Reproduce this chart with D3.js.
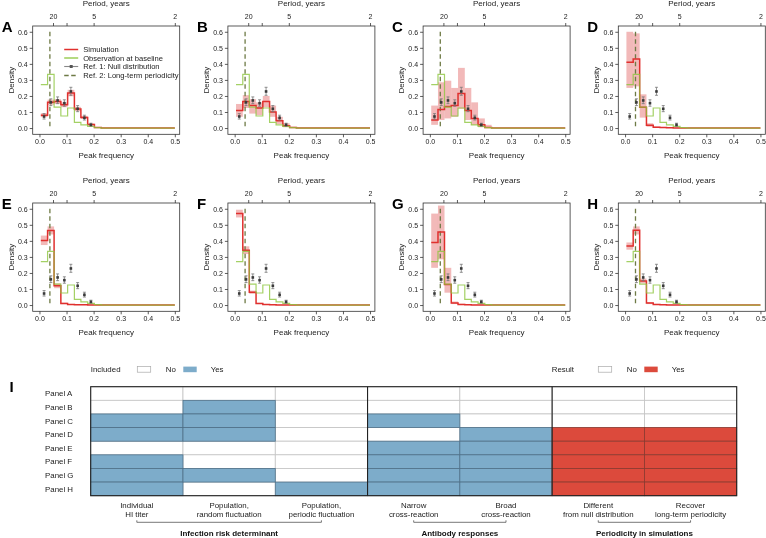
<!DOCTYPE html>
<html><head><meta charset="utf-8">
<script src="https://cdn.jsdelivr.net/npm/d3@7"></script>
<style>body{margin:0;background:#fff}svg{display:block;will-change:transform}text{font-family:"Liberation Sans",Arial,Helvetica,sans-serif}</style>
</head><body><svg id="c" width="766" height="538"></svg>
<script>
// ---------- data ----------
const binEdges=[0.005,0.030,0.054,0.079,0.104,0.129,0.153,0.178,0.203,0.228,0.500];
const nullFreq=[0.017,0.042,0.067,0.092,0.116,0.141,0.166,0.190];
const nullMean=[0.072,0.160,0.172,0.155,0.228,0.120,0.064,0.020];
const nullLo=[0.056,0.140,0.152,0.136,0.204,0.102,0.050,0.012];
const nullHi=[0.090,0.182,0.194,0.176,0.254,0.140,0.080,0.030];
const observed=[0.270,0.335,0.130,0.075,0.125,0.035,0.020,0.010,0.003,0];
const longTermFreq=0.0385;
const xTicks=[0,0.1,0.2,0.3,0.4,0.5];
const yTicks=[0,0.1,0.2,0.3,0.4,0.5,0.6];
const periodTicks=[20,10,5,2];
const periodLabels=["20","","5","2"];
const panelNames=["A","B","C","D","E","F","G","H"];

const meanA=[0.080,0.160,0.165,0.145,0.218,0.118,0.066,0.022,0.003,0];
const loA  =[0.068,0.145,0.150,0.130,0.198,0.105,0.057,0.016,0.001,0];
const hiA  =[0.092,0.177,0.180,0.160,0.238,0.132,0.076,0.028,0.005,0];
const meanB=[0.110,0.165,0.140,0.125,0.165,0.100,0.045,0.015,0.003,0];
const loB  =[0.070,0.125,0.090,0.080,0.130,0.070,0.025,0.005,0.000,0];
const hiB  =[0.150,0.205,0.180,0.160,0.200,0.140,0.070,0.030,0.008,0];
const meanC=[0.050,0.115,0.135,0.140,0.215,0.110,0.060,0.020,0.003,0];
const loC  =[0.020,0.050,0.060,0.070,0.120,0.050,0.020,0.005,0.000,0];
const hiC  =[0.140,0.285,0.295,0.250,0.375,0.250,0.160,0.060,0.020,0];
const meanD=[0.410,0.430,0.130,0.018,0.005,0.003,0.002,0.001,0,0];
const loD  =[0.250,0.260,0.065,0.008,0.001,0.000,0.000,0.000,0,0];
const hiD  =[0.600,0.590,0.210,0.030,0.010,0.006,0.004,0.002,0,0];
const meanE=[0.402,0.465,0.120,0.010,0.004,0.002,0.002,0.001,0,0];
const loE  =[0.374,0.440,0.105,0.006,0.002,0.000,0.000,0.000,0,0];
const hiE  =[0.433,0.490,0.135,0.015,0.006,0.004,0.003,0.002,0,0];
const meanF=[0.570,0.342,0.080,0.010,0.003,0.002,0.001,0.001,0,0];
const loF  =[0.546,0.318,0.070,0.006,0.001,0.000,0.000,0.000,0,0];
const hiF  =[0.594,0.366,0.090,0.014,0.005,0.003,0.002,0.002,0,0];
const meanG=[0.390,0.455,0.128,0.013,0.004,0.002,0.001,0.001,0,0];
const loG  =[0.232,0.285,0.077,0.006,0.001,0.000,0.000,0.000,0,0];
const hiG  =[0.570,0.620,0.232,0.022,0.008,0.004,0.003,0.002,0,0];
const meanH=[0.368,0.466,0.150,0.012,0.004,0.002,0.001,0.001,0,0];
const loH  =[0.345,0.440,0.135,0.006,0.001,0.000,0.000,0.000,0,0];
const hiH  =[0.390,0.490,0.165,0.018,0.007,0.004,0.003,0.002,0,0];

const rowLabels=["Panel A","Panel B","Panel C","Panel D","Panel E","Panel F","Panel G","Panel H"];
const colLabels=[["Individual","HI titer"],["Population,","random fluctuation"],["Population,","periodic fluctuation"],["Narrow","cross-reaction"],["Broad","cross-reaction"],["Different","from null distribution"],["Recover","long-term periodicity"]];
const hiTiter      =[0,0,1,1,0,1,1,1];
const randomFluct  =[0,1,1,1,0,0,1,0];
const periodicFluct=[0,0,0,0,0,0,0,1];
const narrowCR     =[0,0,1,0,1,1,1,1];
const broadCR      =[0,0,0,1,1,1,1,1];
const diffNull     =[0,0,0,1,1,1,1,1];
const recoverLT    =[0,0,0,1,1,1,1,1];
const groupLabels=["Infection risk determinant","Antibody responses","Periodicity in simulations"];
const groupSpans=[[0,2],[3,4],[5,6]];

// ---------- style ----------
const RED="#E0302E", GREEN="#8DC63F", BAND="#E57373", DASH="#6E7A45", BLUE="#7DACCA", RESRED="#DC4A3C";
const sims=[[meanA,loA,hiA],[meanB,loB,hiB],[meanC,loC,hiC],[meanD,loD,hiD],[meanE,loE,hiE],[meanF,loF,hiF],[meanG,loG,hiG],[meanH,loH,hiH]];

const svg=d3.select("#c");
const colLeft=[32.7,227.9,423.1,618.3], rowTop=[26,203];
const W=147, H=108.3;
const fs=7, fsT=8, fsL=7.6, fsI=7.9;

panelNames.forEach((name,pi)=>{
  const L=colLeft[pi%4], T=rowTop[Math.floor(pi/4)];
  const x=d3.scaleLinear().domain([-0.025,0.518]).range([L,L+W]);
  const y=d3.scaleLinear().domain([-0.039,0.636]).range([T+H,T]);
  const g=svg.append("g");
  const [mean,lo,hi]=sims[pi];
  g.selectAll("rect.band").data(mean).join("rect")
    .attr("x",(d,i)=>x(binEdges[i])).attr("width",(d,i)=>x(binEdges[i+1])-x(binEdges[i]))
    .attr("y",(d,i)=>y(hi[i])).attr("height",(d,i)=>Math.max(0,y(lo[i])-y(hi[i])))
    .attr("fill",BAND).attr("opacity",0.5);
  const step=d3.line().x(d=>x(d[0])).y(d=>y(d[1])).curve(d3.curveStepAfter);
  const pts=v=>v.map((d,i)=>[binEdges[i],d]).concat([[binEdges[v.length],v[v.length-1]]]);
  g.append("line").attr("x1",x(longTermFreq)).attr("x2",x(longTermFreq)).attr("y1",y(0.6)).attr("y2",y(0))
    .attr("stroke",DASH).attr("stroke-width",1.3).attr("stroke-dasharray","4.5,3");
  g.append("path").attr("d",step(pts(mean))).attr("fill","none").attr("stroke",RED).attr("stroke-width",1.5);
  g.append("path").attr("d",step(pts(observed))).attr("fill","none").attr("stroke",GREEN).attr("stroke-width",1.2).attr("opacity",0.8);
  nullFreq.forEach((f,i)=>{
    const cx=x(f);
    g.append("line").attr("x1",cx).attr("x2",cx).attr("y1",y(nullLo[i])).attr("y2",y(nullHi[i])).attr("stroke","#777").attr("stroke-width",0.8);
    [nullLo[i],nullHi[i]].forEach(v=>g.append("line").attr("x1",cx-1.5).attr("x2",cx+1.5).attr("y1",y(v)).attr("y2",y(v)).attr("stroke","#777").attr("stroke-width",0.8));
    g.append("rect").attr("x",cx-1.3).attr("y",y(nullMean[i])-1.3).attr("width",2.6).attr("height",2.6).attr("fill","#3a3a3a");
  });
  g.append("rect").attr("x",L).attr("y",T).attr("width",W).attr("height",H).attr("fill","none").attr("stroke","#333").attr("stroke-width",0.8);
  const ax=g.append("g").attr("transform",`translate(0,${T+H})`).call(d3.axisBottom(x).tickValues(xTicks).tickFormat(d3.format(".1f")).tickSize(3).tickPadding(1.5));
  const ay=g.append("g").attr("transform",`translate(${L},0)`).call(d3.axisLeft(y).tickValues(yTicks).tickFormat(d3.format(".1f")).tickSize(3).tickPadding(2));
  const at=g.append("g").attr("transform",`translate(0,${T})`).call(d3.axisTop(x).tickValues(periodTicks.map(p=>1/p)).tickFormat((d,i)=>periodLabels[i]).tickSize(3).tickPadding(4));
  [ax,ay,at].forEach(a=>{a.select(".domain").remove();a.selectAll("line").attr("stroke","#333").attr("stroke-width",0.8);
    a.selectAll("text").attr("font-size",fs).attr("fill","#222").style("font-family","Liberation Sans, Arial, sans-serif");});
  g.append("text").attr("x",L+W/2).attr("y",T+H+24).attr("text-anchor","middle").attr("font-size",fsT).attr("fill","#222").text("Peak frequency");
  g.append("text").attr("x",L+W/2).attr("y",T-20).attr("text-anchor","middle").attr("font-size",fsT).attr("fill","#222").text("Period, years");
  g.append("text").attr("transform",`translate(${L-19},${T+H/2}) rotate(-90)`).attr("text-anchor","middle").attr("font-size",fsT).attr("fill","#222").text("Density");
  g.append("text").attr("x",L-31).attr("y",T+5.5).attr("font-size",15).attr("font-weight","bold").attr("fill","#000").text(name);
  if(pi===0){
    const lx0=L+31.5, lx1=L+45.5, tx=L+50.5;
    const ly=[49.5,58,66.5,75.5];
    const labels=["Simulation","Observation at baseline","Ref. 1: Null distribution","Ref. 2: Long-term periodicity"];
    g.append("line").attr("x1",lx0).attr("x2",lx1).attr("y1",ly[0]).attr("y2",ly[0]).attr("stroke",RED).attr("stroke-width",1.5);
    g.append("line").attr("x1",lx0).attr("x2",lx1).attr("y1",ly[1]).attr("y2",ly[1]).attr("stroke",GREEN).attr("stroke-width",1.3);
    g.append("line").attr("x1",lx0).attr("x2",lx1).attr("y1",ly[2]).attr("y2",ly[2]).attr("stroke","#888").attr("stroke-width",1.1);
    g.append("rect").attr("x",(lx0+lx1)/2-1.5).attr("y",ly[2]-1.5).attr("width",3).attr("height",3).attr("fill","#555");
    g.append("line").attr("x1",lx0).attr("x2",lx1).attr("y1",ly[3]).attr("y2",ly[3]).attr("stroke",DASH).attr("stroke-width",1.4).attr("stroke-dasharray","4.5,2.5");
    labels.forEach((t,i)=>g.append("text").attr("x",tx).attr("y",ly[i]+2.7).attr("font-size",fsL).attr("fill","#222").text(t));
  }
});

// ---------- panel I ----------
const cols=[hiTiter,randomFluct,periodicFluct,narrowCR,broadCR,diffNull,recoverLT];
const cx=d3.scaleBand().domain(d3.range(7)).range([90.7,736.7]);
const ry=d3.scaleBand().domain(d3.range(8)).range([386.7,495.7]);
const gi=svg.append("g");
const cells=[];
cols.forEach((c,ci)=>c.forEach((v,ri)=>cells.push({ci,ri,v})));
const fillOf=d=>d.v? (d.ci>=5?RESRED:BLUE):"#fff";
const strokeOf=d=>d.v? (d.ci>=5?"#8a3a30":"#4f7088"):"#c4c4c4";
gi.selectAll("rect.cw").data(cells.filter(d=>!d.v)).join("rect")
  .attr("x",d=>cx(d.ci)).attr("y",d=>ry(d.ri)).attr("width",cx.bandwidth()).attr("height",ry.bandwidth())
  .attr("fill",fillOf).attr("stroke",strokeOf).attr("stroke-width",0.8);
gi.selectAll("rect.cc").data(cells.filter(d=>d.v)).join("rect")
  .attr("x",d=>cx(d.ci)).attr("y",d=>ry(d.ri)).attr("width",cx.bandwidth()).attr("height",ry.bandwidth())
  .attr("fill",fillOf).attr("stroke",strokeOf).attr("stroke-width",0.8);
[3,5].forEach(ci=>gi.append("line").attr("x1",cx(ci)).attr("x2",cx(ci)).attr("y1",386.7).attr("y2",495.7).attr("stroke","#222").attr("stroke-width",1.1));
gi.append("rect").attr("x",90.7).attr("y",386.7).attr("width",646).attr("height",109).attr("fill","none").attr("stroke","#222").attr("stroke-width",1.1);
rowLabels.forEach((t,i)=>gi.append("text").attr("x",45).attr("y",ry(i)+ry.bandwidth()/2+2.8).attr("font-size",fsI).attr("fill","#222").text(t));
colLabels.forEach((ls,i)=>ls.forEach((t,j)=>gi.append("text").attr("x",cx(i)+cx.bandwidth()/2).attr("y",507.8+j*9.3).attr("text-anchor","middle").attr("font-size",fsI).attr("fill","#222").text(t)));
groupSpans.forEach((s,i)=>{
  const x1=cx(s[0])+cx.bandwidth()/2, x2=cx(s[1])+cx.bandwidth()/2, yb=522.3;
  gi.append("path").attr("d",`M${x1},${yb-2}V${yb}H${x2}V${yb-2}`).attr("fill","none").attr("stroke","#555").attr("stroke-width",0.8);
  gi.append("text").attr("x",(x1+x2)/2).attr("y",536.2).attr("text-anchor","middle").attr("font-size",8).attr("font-weight","bold").attr("fill","#111").text(groupLabels[i]);
});
gi.append("text").attr("x",9.5).attr("y",391.5).attr("font-size",15).attr("font-weight","bold").text("I");
function legend(x0,title,col){
  gi.append("text").attr("x",x0).attr("y",372.2).attr("font-size",fsI).attr("fill","#222").text(title);
  gi.append("rect").attr("x",x0+46.6).attr("y",366.6).attr("width",13.4).attr("height",5.6).attr("fill","#fff").attr("stroke","#aaa").attr("stroke-width",0.7);
  gi.append("text").attr("x",x0+75).attr("y",372.2).attr("font-size",fsI).attr("fill","#222").text("No");
  gi.append("rect").attr("x",x0+92.6).attr("y",366.6).attr("width",13.4).attr("height",5.6).attr("fill",col);
  gi.append("text").attr("x",x0+120).attr("y",372.2).attr("font-size",fsI).attr("fill","#222").text("Yes");
}
legend(90.7,"Included",BLUE);
legend(551.7,"Result",RESRED);
</script></body></html>
